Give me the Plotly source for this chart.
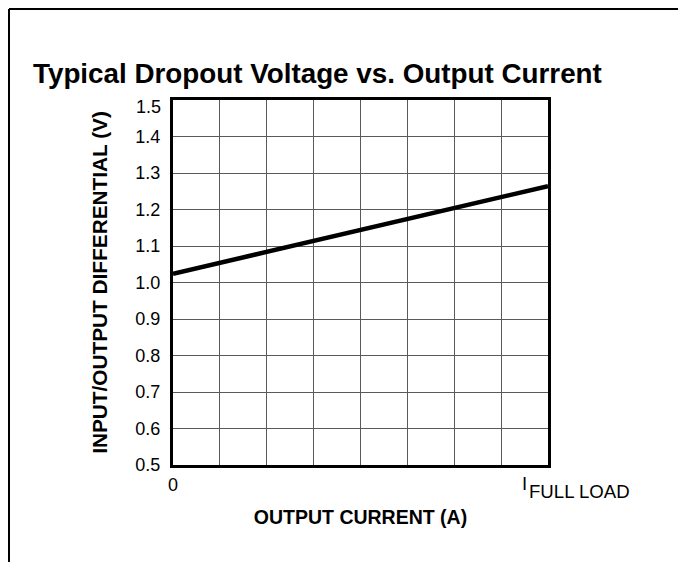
import plotly.graph_objects as go

# ---- data ----
x_current = [0.0, 1.0]            # fraction of full load current
y_dropout = [1.024, 1.264]        # input/output differential (V)

x_grid = [0, 0.125, 0.25, 0.375, 0.5, 0.625, 0.75, 0.875, 1.0]
x_ticktext = ["0", "", "", "", "", "", "", "", ""]
y_ticks = [0.5, 0.6, 0.7, 0.8, 0.9, 1.0, 1.1, 1.2, 1.3, 1.4, 1.5]
y_ticktext = ["0.5", "0.6", "0.7", "0.8", "0.9", "1.0", "1.1", "1.2", "1.3", "1.4", ""]

FONT = "Liberation Sans, Arial, Helvetica, sans-serif"

# page has an 8px body margin; figure is sized to fit inside the window
OFF = 8
W, H = 686 - OFF, 562 - OFF
L, R, T, B = 173 - OFF, 548 - OFF, 100 - OFF, 465 - OFF

fig = go.Figure()
fig.add_trace(go.Scatter(
    x=x_current, y=y_dropout, mode="lines",
    line=dict(color="black", width=4.5),
    showlegend=False, hoverinfo="skip",
))

def px_x(p):
    return (p - L) / (R - L)

def px_y(p):
    return (B - p) / (B - T)

shapes = [
    # document frame (top and left edges)
    dict(type="line", xref="paper", yref="paper",
         x0=px_x(1), x1=px_x(W), y0=px_y(1), y1=px_y(1),
         line=dict(color="black", width=2)),
    dict(type="line", xref="paper", yref="paper",
         x0=px_x(1), x1=px_x(1), y0=px_y(1), y1=px_y(H),
         line=dict(color="black", width=2)),
]

annotations = [
    dict(x=1.0, y=0.5, xref="x", yref="y", text="I", showarrow=False,
         xanchor="center", yanchor="middle", xshift=-24, yshift=-18.5,
         font=dict(family=FONT, size=18.5, color="black")),
    dict(x=1.0, y=0.5, xref="x", yref="y", text="FULL LOAD", showarrow=False,
         xanchor="left", yanchor="middle", xshift=-21, yshift=-26.5,
         font=dict(family=FONT, size=18.6, color="black")),
    dict(x=0, y=1.5, xref="paper", yref="y", text="1.5", showarrow=False,
         xanchor="right", yanchor="middle", xshift=-10, yshift=-7,
         font=dict(family=FONT, size=18, color="black")),
]

fig.update_layout(
    width=W, height=H,
    margin=dict(l=L, r=W - R, t=T, b=H - B, autoexpand=False),
    paper_bgcolor="white", plot_bgcolor="white",
    title=dict(text="<b>Typical Dropout Voltage vs. Output Current</b>",
               x=(33 - OFF) / W, xanchor="left", xref="container",
               y=1 - (73 - OFF) / H, yanchor="middle", yref="container",
               font=dict(family=FONT, size=27.8, color="black")),
    shapes=shapes,
    annotations=annotations,
    font=dict(family=FONT, color="black"),
)

fig.update_xaxes(
    range=[0, 1], tickvals=x_grid, ticktext=x_ticktext,
    showgrid=True, gridcolor="#5a5a5a", gridwidth=1,
    showline=True, linecolor="black", linewidth=3, mirror=True,
    ticks="", ticklabelstandoff=1, zeroline=False,
    tickfont=dict(family=FONT, size=18, color="black"),
    title=dict(text="<b>OUTPUT CURRENT (A)</b>", standoff=17,
               font=dict(family=FONT, size=19.5, color="black")),
    automargin=False,
)
fig.update_yaxes(
    range=[0.5, 1.5], tickvals=y_ticks, ticktext=y_ticktext,
    showgrid=True, gridcolor="#5a5a5a", gridwidth=1,
    showline=True, linecolor="black", linewidth=3, mirror=True,
    ticks="", ticklabelstandoff=6, zeroline=False,
    tickfont=dict(family=FONT, size=18, color="black"),
    title=dict(text="<b>INPUT/OUTPUT DIFFERENTIAL (V)</b>", standoff=23,
               font=dict(family=FONT, size=20.8, color="black")),
    automargin=False,
)

fig.write_html("out.html")
